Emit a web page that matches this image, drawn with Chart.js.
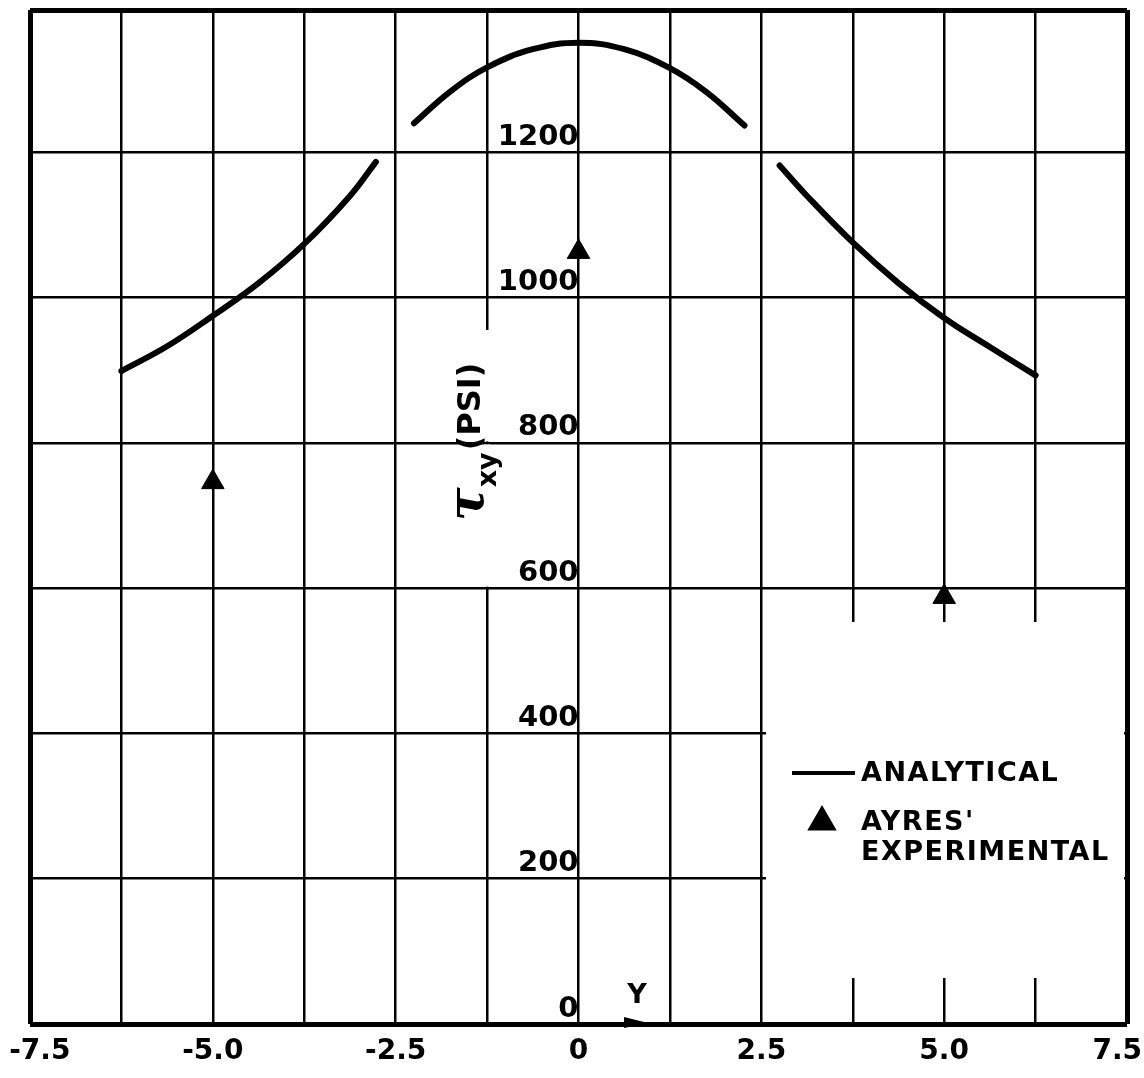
<!DOCTYPE html>
<html>
<head>
<meta charset="utf-8">
<script src="https://cdn.jsdelivr.net/npm/chart.js@4/dist/chart.umd.min.js"></script>
<style>
html,body{margin:0;padding:0;background:#fff;}
#wrap{width:1144px;height:1078px;position:relative;}
</style>
</head>
<body>
<div id="wrap"><canvas id="c"></canvas></div>
<script>
// ---- data ----
const analyticalLeftX  = [-6.25, -5.625, -5.0, -4.375, -3.75, -3.125, -2.77];
const analyticalLeftY  = [899, 933, 975, 1020, 1074, 1140, 1187];
const analyticalMidX   = [-2.25, -1.75, -1.25, -0.625, 0, 0.625, 1.25, 1.75, 2.27];
const analyticalMidY   = [1240, 1284, 1317, 1342, 1351, 1342, 1316, 1283, 1237];
const analyticalRightX = [2.75, 3.125, 3.75, 4.375, 5.0, 5.625, 6.25];
const analyticalRightY = [1182, 1140, 1076, 1020, 972, 932, 893];
const experimentalX = [-5, 0, 5];
const experimentalY = [746, 1063, 588];

const xTickValues = [-7.5, -5, -2.5, 0, 2.5, 5, 7.5];
const xTickLabels = ['-7.5', '-5.0', '-2.5', '0', '2.5', '5.0', '7.5'];
const yTickValues = [0, 200, 400, 600, 800, 1000, 1200];
const yTickLabels = ['0', '200', '400', '600', '800', '1000', '1200'];
const xMin = -7.5, xMax = 7.5, xStep = 1.25;
const yMin = 0, yMax = 1396;

const analyticalLabel = 'ANALYTICAL';
const experimentalLabelLines = ["AYRES'", 'EXPERIMENTAL'];
const xTitle = 'Y';
const yTitleMain = 'τ', yTitleSub = 'xy', yTitleSup = '(PSI)';

// ---- build library data ----
function pts(xs, ys) { return xs.map((x, i) => ({x: x, y: ys[i]})); }
const analyticalData = []
  .concat(pts(analyticalLeftX, analyticalLeftY))
  .concat([{x: -2.5, y: null}])
  .concat(pts(analyticalMidX, analyticalMidY))
  .concat([{x: 2.5, y: null}])
  .concat(pts(analyticalRightX, analyticalRightY));
const experimentalData = pts(experimentalX, experimentalY);

const FONT = '"DejaVu Sans", "Liberation Sans", sans-serif';
const NBSP2 = '\u00a0\u00a0';
Chart.defaults.color = '#000';
Chart.defaults.font.family = FONT;

const decor = {
  id: 'decor',
  beforeDatasetsDraw(chart) {
    const ctx = chart.ctx;
    const xs = chart.scales.x, ys = chart.scales.y;
    const ds = chart.data.datasets;
    ctx.save();
    // gap in the -1.25 grid line behind the axis title (as in the original sheet)
    const gx = xs.getPixelForValue(-1.25);
    const g800 = ys.getPixelForValue(800);
    const g600 = ys.getPixelForValue(600);
    ctx.fillStyle = '#fff';
    ctx.fillRect(gx - 3, 330, 6, g800 - 1.5 - 330);
    ctx.fillRect(gx - 3, g800 + 1.5, 6, g600 - 1.5 - g800 - 1.5);
    // legend panel (blanks the grid behind it)
    ctx.fillRect(766, 622, 358, 356);
    ctx.fillStyle = '#000';
    ctx.strokeStyle = '#000';
    ctx.lineWidth = 4;
    ctx.lineCap = 'butt';
    ctx.beginPath();
    ctx.moveTo(792, 773);
    ctx.lineTo(855, 773);
    ctx.stroke();
    ctx.font = 'bold 27px ' + FONT;
    try { ctx.letterSpacing = '1.5px'; } catch (e) {}
    ctx.textBaseline = 'middle';
    ctx.textAlign = 'left';
    ctx.fillText(analyticalLabel, 861, 774);
    Chart.helpers.drawPoint(ctx, {pointStyle: 'triangle', radius: ds[1].pointRadius, rotation: 0, borderWidth: 1}, 822, 822);
    ctx.fill();
    ctx.fillText(experimentalLabelLines[0], 861, 823);
    ctx.fillText(experimentalLabelLines[1], 861, 853);
    ctx.restore();
  },
  afterDraw(chart) {
    const ctx = chart.ctx;
    const xs = chart.scales.x, ys = chart.scales.y;
    const x0 = xs.getPixelForValue(0);
    const yb = ys.getPixelForValue(0);
    ctx.save();
    ctx.fillStyle = '#000';
    // y axis title, rotated
    ctx.translate(x0 - 96, 521);
    ctx.rotate(-Math.PI / 2);
    ctx.textAlign = 'left';
    ctx.textBaseline = 'alphabetic';
    ctx.font = 'italic bold 50px "DejaVu Serif", serif';
    ctx.fillText(yTitleMain, 0, 0);
    let u = ctx.measureText(yTitleMain).width;
    ctx.font = 'bold 27px ' + FONT;
    ctx.fillText(yTitleSub, u, 13);
    u += ctx.measureText(yTitleSub).width + 2;
    ctx.font = 'bold 32px ' + FONT;
    ctx.fillText(yTitleSup, u, -3);
    ctx.restore();
    // x axis title "Y" with arrow
    ctx.save();
    ctx.fillStyle = '#000';
    const tip = xs.getPixelForValue(0.95);
    ctx.beginPath();
    ctx.moveTo(tip - 24, yb - 7);
    ctx.lineTo(tip, yb - 1);
    ctx.lineTo(tip - 24, yb + 4);
    ctx.closePath();
    ctx.fill();
    ctx.font = 'bold 27px ' + FONT;
    ctx.textAlign = 'center';
    ctx.textBaseline = 'middle';
    ctx.fillText(xTitle, xs.getPixelForValue(0.8), yb - 28);
    ctx.restore();
  }
};

new Chart(document.getElementById('c'), {
  type: 'line',
  data: {
    datasets: [
      {
        label: analyticalLabel,
        data: analyticalData,
        borderColor: '#000',
        borderWidth: 6,
        borderCapStyle: 'round',
        pointRadius: 0,
        tension: 0.4,
        spanGaps: false,
        fill: false
      },
      {
        label: experimentalLabelLines.join(' '),
        data: experimentalData,
        showLine: false,
        pointStyle: 'triangle',
        pointRadius: 13,
        pointBackgroundColor: '#000',
        pointBorderColor: '#000',
        pointBorderWidth: 1
      }
    ]
  },
  options: {
    responsive: true,
    maintainAspectRatio: false,
    animation: false,
    events: [],
    layout: {autoPadding: false, padding: {left: 30, right: 17, top: 10, bottom: 9}},
    plugins: {legend: {display: false}, tooltip: {enabled: false}},
    scales: {
      x: {
        type: 'linear',
        position: 'bottom',
        min: xMin, max: xMax,
        afterFit(s) { s.paddingLeft = 0; s.paddingRight = 0; s.height = 45; },
        ticks: {
          stepSize: xStep,
          autoSkip: false,
          maxRotation: 0,
          padding: 11,
          font: {size: 28, weight: 'bold', family: FONT},
          color: '#000',
          callback(v) {
            const i = xTickValues.indexOf(v);
            if (i < 0) return '';
            if (v === xMin) return NBSP2 + xTickLabels[i];
            if (v === xMax) return xTickLabels[i] + NBSP2;
            return xTickLabels[i];
          }
        },
        grid: {
          color: '#000',
          drawTicks: false,
          lineWidth: (c) => (c.tick && (c.tick.value === xMin || c.tick.value === xMax)) ? 5 : 2.5
        },
        border: {display: false}
      },
      y: {
        type: 'linear',
        position: {x: 0},
        min: yMin, max: yMax,
        afterBuildTicks(s) { s.ticks = yTickValues.map(v => ({value: v})).concat([{value: yMax}]); },
        afterFit(s) { s.paddingTop = 0; s.paddingBottom = 0; },
        ticks: {
          autoSkip: false,
          padding: 5,
          labelOffset: -15,
          font: {size: 29, weight: 'bold', family: FONT},
          color: '#000',
          callback(v) { const i = yTickValues.indexOf(v); return i >= 0 ? yTickLabels[i] : ''; }
        },
        grid: {
          color: '#000',
          drawTicks: false,
          lineWidth: (c) => (c.tick && (c.tick.value === yMin || c.tick.value === yMax)) ? 5 : 2.5
        },
        border: {display: false}
      }
    }
  },
  plugins: [decor]
});
</script>
</body>
</html>
